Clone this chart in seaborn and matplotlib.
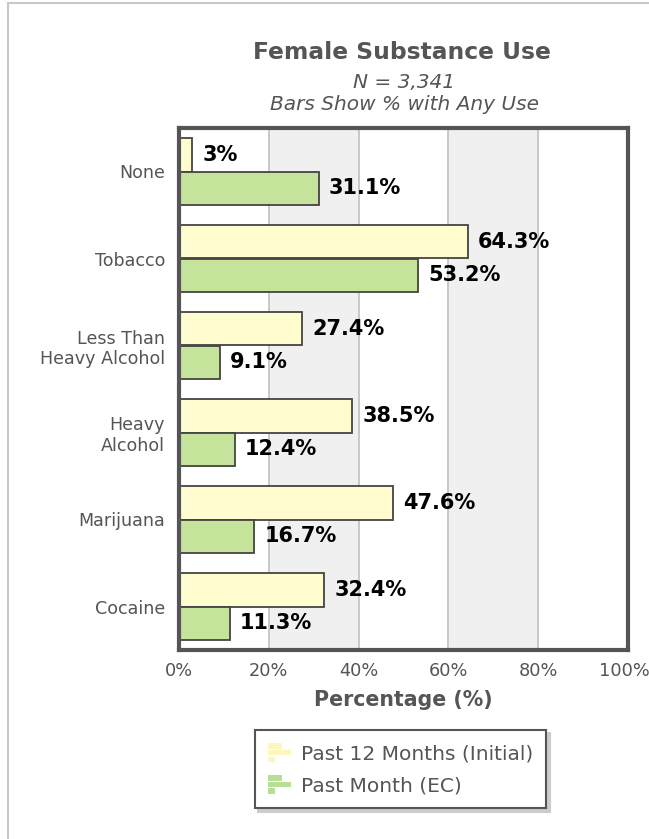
import matplotlib
matplotlib.use("Agg")
import matplotlib.pyplot as plt
import matplotlib.transforms as mtransforms
import seaborn as sns
import pandas as pd
from matplotlib.patches import Patch, Rectangle
from matplotlib.legend_handler import HandlerBase

categories = ["None", "Tobacco", "Less Than\nHeavy Alcohol", "Heavy\nAlcohol", "Marijuana", "Cocaine"]
series_names = ["Past 12 Months (Initial)", "Past Month (EC)"]
past12 = [3, 64.3, 27.4, 38.5, 47.6, 32.4]
pastmonth = [31.1, 53.2, 9.1, 12.4, 16.7, 11.3]
xticks = [0, 20, 40, 60, 80, 100]
xtick_labels = ["0%", "20%", "40%", "60%", "80%", "100%"]

colors = ["#FFFDD0", "#C5E39B"]
icon_colors = ["#FBF7BE", "#B6DE97"]
grey = "#555555"

df = pd.DataFrame({
    "cat": categories * 2,
    "value": past12 + pastmonth,
    "series": [series_names[0]] * len(categories) + [series_names[1]] * len(categories),
})

sns.set_style("white")
plt.rcParams["font.family"] = ["DejaVu Sans"]

fig = plt.figure(figsize=(6.49, 8.39), dpi=100)
ax = fig.add_axes([179 / 649, 1 - 650 / 839, 449 / 649, 522 / 839])

for lo, hi in [(20, 40), (60, 80)]:
    ax.axvspan(lo, hi, color="#f0f0f0", zorder=0, lw=0)
for x in [20, 40, 60, 80]:
    ax.axvline(x, color="#c4c4c4", lw=1.3, zorder=0.5)

sns.barplot(data=df, y="cat", x="value", hue="series", palette=colors, saturation=1,
            edgecolor="#444444", linewidth=1.3, width=0.78, orient="h",
            legend=False, ax=ax, zorder=2)

for cont in ax.containers:
    ax.bar_label(cont, labels=[f"{v:g}%" for v in cont.datavalues], padding=7.5,
                 fontsize=15, fontweight="bold", color="black")

ax.set_xlim(0, 100)
ax.set_xticks(xticks)
ax.set_xticklabels(xtick_labels)
ax.set_ylabel("")
ax.set_xlabel("Percentage (%)", fontsize=14.8, fontweight="bold", color=grey, labelpad=7)
ax.tick_params(axis="x", length=0, pad=9, labelsize=12.8, labelcolor=grey)
ax.tick_params(axis="y", length=0, pad=10, labelsize=12.6, labelcolor=grey)
lbls = ax.get_xticklabels()
lbls[-1].set_transform(lbls[-1].get_transform() +
                       mtransforms.ScaledTranslation(-4 / 100, 0, fig.dpi_scale_trans))
for s in ax.spines.values():
    s.set_color("#555555")
    s.set_linewidth(3)
    s.set_visible(True)

fig.text(402 / 649, 1 - 59 / 839, "Female Substance Use", ha="center", va="baseline",
         fontsize=16.8, fontweight="bold", color=grey)
fig.text(404 / 649, 1 - 88 / 839, "N = 3,341", ha="center", va="baseline",
         fontsize=14.5, style="italic", color=grey)
fig.text(404 / 649, 1 - 110 / 839, "Bars Show % with Any Use", ha="center", va="baseline",
         fontsize=14.5, style="italic", color=grey)


class BarIconHandler(HandlerBase):
    def __init__(self, color):
        super().__init__()
        self.color = color

    def create_artists(self, legend, orig_handle, xdescent, ydescent, width, height, fontsize, trans):
        arts = []
        h3 = height / 3.0
        for i, frac in enumerate([0.63, 1.0, 0.31]):
            y0 = -ydescent + height - (i + 1) * h3 + h3 * 0.08
            r = Rectangle((-xdescent, y0), width * frac, h3 * 0.84,
                          facecolor=self.color, edgecolor="none", transform=trans)
            arts.append(r)
        return arts


handles = [Patch(facecolor=c) for c in icon_colors]
leg = fig.legend(handles, series_names, loc="center", bbox_to_anchor=(400.5 / 649, 1 - 769 / 839),
                 frameon=True, fancybox=False, edgecolor="#555555", fontsize=14.5,
                 labelcolor=grey, handlelength=1.15, handleheight=1.15, borderpad=0.65,
                 labelspacing=0.55, handletextpad=0.5, borderaxespad=0,
                 handler_map={handles[0]: BarIconHandler(icon_colors[0]),
                              handles[1]: BarIconHandler(icon_colors[1])},
                 shadow={"color": "#cccccc", "alpha": 1, "ox": 2.5, "oy": -2.5})
leg.get_frame().set_linewidth(1.5)

fig.patches.append(Rectangle((8 / 649, -0.01), 1, 1 - 3 / 839 + 0.01, transform=fig.transFigure,
                             fill=False, edgecolor="#c8c8c8", lw=1.5, zorder=-1))

fig.savefig("out.png", dpi=100)
